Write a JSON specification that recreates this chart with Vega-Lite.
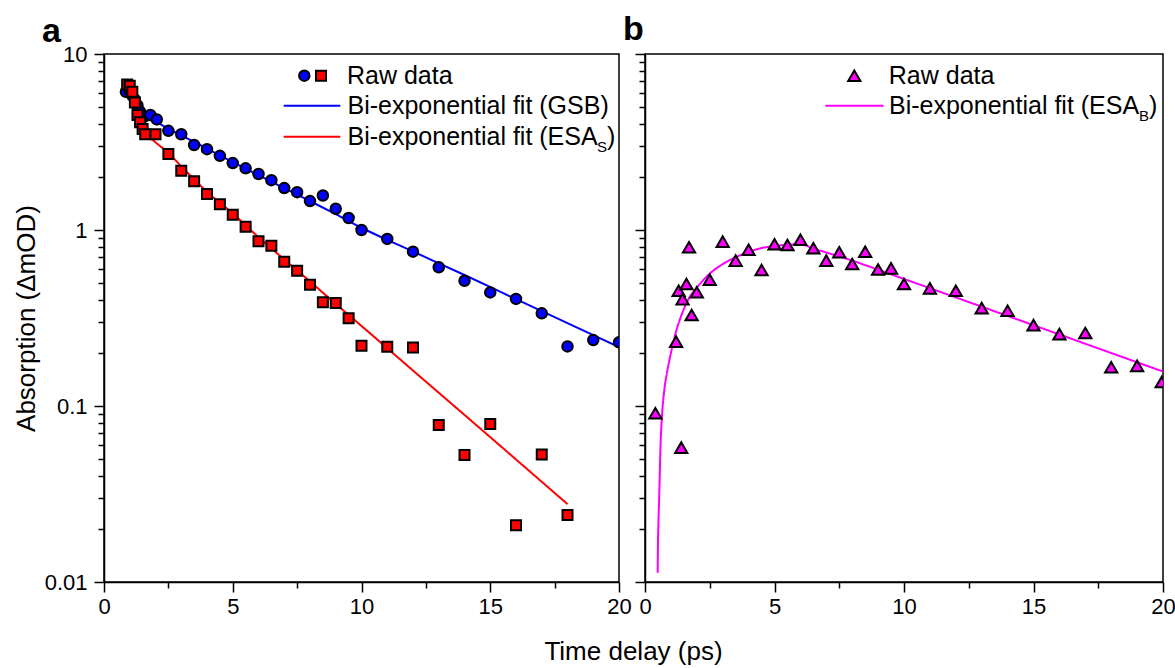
{
  "$schema": "https://vega.github.io/schema/vega-lite/v6.json",
  "background": "white",
  "padding": {"left": 12, "top": 12, "right": 0, "bottom": 0},
  "bounds": "flush",
  "spacing": 26,
  "title": {"text": "Time delay (ps)", "orient": "bottom", "anchor": "start", "align": "center", "frame": "group", "dx": 529.5, "fontSize": 26, "fontWeight": "normal", "font": "Liberation Sans", "color": "black", "offset": 21, "baseline": "top"},
  "config": {
    "font": "Liberation Sans",
    "view": {"stroke": "black", "strokeWidth": 1.5},
    "axis": {"grid": false, "domainColor": "black", "domainWidth": 1.5, "tickColor": "black", "tickWidth": 1.5, "labelFont": "Liberation Sans", "labelFontSize": 22, "labelColor": "black", "titleFont": "Liberation Sans", "titleFontSize": 26, "titleFontWeight": "normal", "titleColor": "black", "labelOverlap": false, "labelFlush": false},
    "legend": {"orient": "none", "labelFont": "Liberation Sans", "labelFontSize": 25, "labelColor": "black", "padding": 0, "labelLimit": 0}
  },
  "datasets": {
    "gsbRaw": [{"t":0.85,"A":6.1},{"t":1.0,"A":6.2},{"t":1.1,"A":5.8},{"t":1.2,"A":5.5},{"t":1.3,"A":5.1},{"t":1.4,"A":4.7},{"t":1.55,"A":4.4},{"t":1.8,"A":4.5},{"t":2.05,"A":4.25},{"t":2.5,"A":3.66},{"t":3,"A":3.5},{"t":3.5,"A":3.04},{"t":4,"A":2.88},{"t":4.5,"A":2.64},{"t":5,"A":2.4},{"t":5.5,"A":2.24},{"t":6,"A":2.08},{"t":6.5,"A":1.92},{"t":7,"A":1.73},{"t":7.5,"A":1.64},{"t":8,"A":1.46},{"t":8.5,"A":1.57},{"t":9,"A":1.32},{"t":9.5,"A":1.17},{"t":10,"A":1.0},{"t":11,"A":0.89},{"t":12,"A":0.753},{"t":13,"A":0.614},{"t":14,"A":0.515},{"t":15,"A":0.442},{"t":16,"A":0.406},{"t":17,"A":0.336},{"t":18,"A":0.218},{"t":19,"A":0.237},{"t":20,"A":0.23}],
    "esasRaw": [{"t":0.9,"A":6.7},{"t":1.0,"A":6.6},{"t":1.1,"A":6.1},{"t":1.2,"A":5.3},{"t":1.3,"A":4.5},{"t":1.4,"A":4.1},{"t":1.5,"A":3.75},{"t":1.6,"A":3.5},{"t":2.0,"A":3.5},{"t":2.5,"A":2.7},{"t":3,"A":2.17},{"t":3.5,"A":1.89},{"t":4,"A":1.6},{"t":4.5,"A":1.4},{"t":5,"A":1.22},{"t":5.5,"A":1.045},{"t":6,"A":0.863},{"t":6.5,"A":0.815},{"t":7,"A":0.66},{"t":7.5,"A":0.587},{"t":8,"A":0.489},{"t":8.5,"A":0.388},{"t":9,"A":0.385},{"t":9.5,"A":0.315},{"t":10,"A":0.22},{"t":11,"A":0.217},{"t":12,"A":0.215},{"t":13,"A":0.078},{"t":14,"A":0.0527},{"t":15,"A":0.079},{"t":16,"A":0.021},{"t":17,"A":0.053},{"t":18,"A":0.024}],
    "gsbFit": [{"t":0.9,"A":6.4},{"t":1.0,"A":6.0},{"t":1.2,"A":5.3},{"t":1.4,"A":4.85},{"t":1.6,"A":4.5},{"t":1.8,"A":4.3},{"t":2.0,"A":4.15},{"t":2.5,"A":3.75},{"t":3,"A":3.45},{"t":4,"A":2.9},{"t":5,"A":2.43},{"t":6,"A":2.05},{"t":7,"A":1.73},{"t":8,"A":1.46},{"t":9,"A":1.23},{"t":10,"A":1.03},{"t":12,"A":0.755},{"t":14,"A":0.555},{"t":16,"A":0.405},{"t":18,"A":0.296},{"t":20,"A":0.216}],
    "esasFit": [{"t":0.95,"A":6.8},{"t":1.0,"A":6.3},{"t":1.1,"A":5.5},{"t":1.2,"A":4.8},{"t":1.3,"A":4.3},{"t":1.4,"A":4.0},{"t":1.5,"A":3.75},{"t":1.7,"A":3.45},{"t":2.0,"A":3.15},{"t":2.5,"A":2.74},{"t":3,"A":2.3},{"t":4,"A":1.65},{"t":5,"A":1.24},{"t":6,"A":0.91},{"t":7,"A":0.68},{"t":8,"A":0.51},{"t":9,"A":0.38},{"t":10,"A":0.285},{"t":12,"A":0.159},{"t":14,"A":0.089},{"t":16,"A":0.0497},{"t":18,"A":0.0277}],
    "esabRaw": [{"t":0.4,"A":0.091},{"t":1.2,"A":0.232},{"t":1.3,"A":0.452},{"t":1.4,"A":0.058},{"t":1.45,"A":0.405},{"t":1.6,"A":0.493},{"t":1.7,"A":0.798},{"t":1.8,"A":0.329},{"t":2.0,"A":0.443},{"t":2.5,"A":0.522},{"t":3,"A":0.859},{"t":3.5,"A":0.67},{"t":4,"A":0.773},{"t":4.5,"A":0.593},{"t":5,"A":0.83},{"t":5.5,"A":0.822},{"t":6,"A":0.881},{"t":6.5,"A":0.787},{"t":7,"A":0.67},{"t":7.5,"A":0.747},{"t":8,"A":0.641},{"t":8.5,"A":0.753},{"t":9,"A":0.596},{"t":9.5,"A":0.605},{"t":10,"A":0.493},{"t":11,"A":0.466},{"t":12,"A":0.452},{"t":13,"A":0.36},{"t":14,"A":0.348},{"t":15,"A":0.288},{"t":16,"A":0.256},{"t":17,"A":0.26},{"t":18,"A":0.166},{"t":19,"A":0.169},{"t":19.95,"A":0.137}],
    "esabFit": [{"t":0.49,"A":0.0113},{"t":0.5,"A":0.016},{"t":0.52,"A":0.022},{"t":0.55,"A":0.031},{"t":0.6,"A":0.06},{"t":0.65,"A":0.085},{"t":0.75,"A":0.125},{"t":0.85,"A":0.155},{"t":1.0,"A":0.2},{"t":1.2,"A":0.265},{"t":1.4,"A":0.326},{"t":1.7,"A":0.41},{"t":2.0,"A":0.47},{"t":2.5,"A":0.565},{"t":3,"A":0.64},{"t":3.5,"A":0.7},{"t":4,"A":0.75},{"t":4.5,"A":0.79},{"t":5,"A":0.81},{"t":5.5,"A":0.825},{"t":6,"A":0.83},{"t":6.5,"A":0.785},{"t":7,"A":0.745},{"t":8,"A":0.67},{"t":9,"A":0.595},{"t":10,"A":0.527},{"t":12,"A":0.414},{"t":14,"A":0.325},{"t":16,"A":0.255},{"t":18,"A":0.2},{"t":20,"A":0.157}]
  },
  "hconcat": [
    {
      "width": 515,
      "height": 528,
      "title": {"text": "a", "anchor": "start", "frame": "group", "fontSize": 34, "fontWeight": "bold", "font": "Liberation Sans", "color": "black", "dx": -62, "offset": -33, "baseline": "alphabetic"},
      "encoding": {
        "x": {"field": "t", "type": "quantitative", "scale": {"domain": [0, 20], "nice": false, "zero": false},
          "axis": {"title": null, "values": [0, 2.5, 5, 7.5, 10, 12.5, 15, 17.5, 20], "format": "~g", "labelExpr": "datum.value % 5 === 0 ? datum.label : ''", "tickSize": {"condition": {"test": "datum.value % 5 === 0", "value": 10}, "value": 6}, "labelPadding": 4}},
        "y": {"field": "A", "type": "quantitative", "scale": {"type": "log", "domain": [0.01, 10], "nice": false},
          "axis": {"title": "Absorption (ΔmOD)", "values": [0.01,0.02,0.03,0.04,0.05,0.06,0.07,0.08,0.09,0.1,0.2,0.3,0.4,0.5,0.6,0.7,0.8,0.9,1,2,3,4,5,6,7,8,9,10], "format": "~g", "labelExpr": "abs(log(datum.value)/LN10 - round(log(datum.value)/LN10)) < 0.001 ? datum.label : ''", "tickSize": {"condition": {"test": "abs(log(datum.value)/LN10 - round(log(datum.value)/LN10)) < 0.001", "value": 10}, "value": 6}, "labelPadding": 7, "titlePadding": 5}}
      },
      "layer": [
        {"data": {"name": "gsbFit"}, "mark": {"type": "line", "strokeWidth": 2, "clip": true, "interpolate": "monotone"},
          "encoding": {"color": {"datum": "Bi-exponential fit (GSB)", "scale": {"range": ["#0000ff"]}, "legend": {"orient": "none", "legendX": 178.5, "legendY": 22.2, "title": null, "symbolType": "stroke", "symbolSize": 3204, "symbolStrokeWidth": 2, "labelOffset": 6, "padding": 0}}}},
        {"data": {"name": "esasFit"}, "mark": {"type": "line", "strokeWidth": 2, "clip": true, "interpolate": "monotone"},
          "encoding": {
            "color": {"datum": "Bi-exponential fit (ESA", "scale": {"range": ["#ff0000"]}, "legend": {"orient": "none", "legendX": 178.5, "legendY": 53.2, "title": null, "symbolType": "stroke", "symbolSize": 3204, "symbolStrokeWidth": 2, "labelOffset": 6, "padding": 0}},
            "strokeDash": {"datum": "S", "scale": {"range": [[1, 0]]}, "legend": {"orient": "none", "legendX": 478, "legendY": 85.5, "title": null, "symbolSize": 0, "symbolStrokeWidth": 0, "symbolOpacity": 0, "labelFontSize": 15, "labelOffset": 0, "padding": 0}},
            "opacity": {"datum": ")", "type": "nominal", "scale": {"range": [1]}, "legend": {"orient": "none", "legendX": 478, "legendY": 70.2, "title": null, "symbolSize": 0, "symbolStrokeWidth": 0, "symbolOpacity": 0, "labelOffset": 0, "padding": 0}}
          }},
        {"data": {"name": "gsbRaw"}, "mark": {"type": "point", "shape": "circle", "filled": true, "size": 110, "stroke": "black", "strokeWidth": 2, "opacity": 1, "clip": true},
          "encoding": {"color": {"datum": "GSB raw", "scale": {"range": ["#0000ff"]}, "legend": {"orient": "none", "legendX": 187.8, "legendY": 9.2, "title": null, "symbolType": "circle", "symbolSize": 110, "symbolStrokeWidth": 2, "labelExpr": "''", "padding": 0}}}},
        {"data": {"name": "esasRaw"}, "mark": {"type": "point", "shape": "square", "filled": true, "size": 100, "stroke": "black", "strokeWidth": 2, "opacity": 1, "clip": true},
          "encoding": {"color": {"datum": "Raw data", "scale": {"range": ["#ff0000"]}, "legend": {"orient": "none", "legendX": 204.5, "legendY": 9.2, "title": null, "symbolType": "square", "symbolSize": 100, "symbolStrokeWidth": 2, "labelOffset": 13.5, "padding": 0}}}}
      ],
      "resolve": {"scale": {"color": "independent", "strokeDash": "independent", "opacity": "independent"}}
    },
    {
      "width": 518,
      "height": 528,
      "title": {"text": "b", "anchor": "start", "frame": "group", "fontSize": 34, "fontWeight": "bold", "font": "Liberation Sans", "color": "black", "dx": -22, "offset": -21, "baseline": "alphabetic"},
      "encoding": {
        "x": {"field": "t", "type": "quantitative", "scale": {"domain": [0, 20], "nice": false, "zero": false},
          "axis": {"title": null, "values": [0, 2.5, 5, 7.5, 10, 12.5, 15, 17.5, 20], "format": "~g", "labelExpr": "datum.value % 5 === 0 ? datum.label : ''", "tickSize": {"condition": {"test": "datum.value % 5 === 0", "value": 10}, "value": 6}, "labelPadding": 4}},
        "y": {"field": "A", "type": "quantitative", "scale": {"type": "log", "domain": [0.01, 10], "nice": false},
          "axis": {"title": null, "labels": false, "values": [0.01,0.02,0.03,0.04,0.05,0.06,0.07,0.08,0.09,0.1,0.2,0.3,0.4,0.5,0.6,0.7,0.8,0.9,1,2,3,4,5,6,7,8,9,10], "tickSize": {"condition": {"test": "abs(log(datum.value)/LN10 - round(log(datum.value)/LN10)) < 0.001", "value": 10}, "value": 6}}}
      },
      "layer": [
        {"data": {"name": "esabFit"}, "mark": {"type": "line", "strokeWidth": 2, "clip": true, "interpolate": "monotone"},
          "encoding": {
            "color": {"datum": "Bi-exponential fit (ESA", "scale": {"range": ["#ff00ff"]}, "legend": {"orient": "none", "legendX": 179, "legendY": 21.2, "title": null, "symbolType": "stroke", "symbolSize": 3400, "symbolStrokeWidth": 2, "labelOffset": 4, "padding": 0}},
            "strokeDash": {"datum": "B", "scale": {"range": [[1, 0]]}, "legend": {"orient": "none", "legendX": 479, "legendY": 54.5, "title": null, "symbolSize": 0, "symbolStrokeWidth": 0, "symbolOpacity": 0, "labelFontSize": 15, "labelOffset": 0, "padding": 0}},
            "opacity": {"datum": ")", "type": "nominal", "scale": {"range": [1]}, "legend": {"orient": "none", "legendX": 479, "legendY": 39.2, "title": null, "symbolSize": 0, "symbolStrokeWidth": 0, "symbolOpacity": 0, "labelOffset": 0, "padding": 0}}
          }},
        {"data": {"name": "esabRaw"}, "mark": {"type": "point", "shape": "triangle-up", "filled": true, "size": 150, "stroke": "black", "strokeWidth": 2, "opacity": 1, "clip": true},
          "encoding": {"color": {"datum": "Raw data", "scale": {"range": ["#ff00ff"]}, "legend": {"orient": "none", "legendX": 196.8, "legendY": 9.2, "title": null, "symbolType": "triangle-up", "symbolSize": 150, "symbolStrokeWidth": 2, "labelOffset": 22, "padding": 0}}}}
      ],
      "resolve": {"scale": {"color": "independent", "strokeDash": "independent", "opacity": "independent"}}
    }
  ]
}
